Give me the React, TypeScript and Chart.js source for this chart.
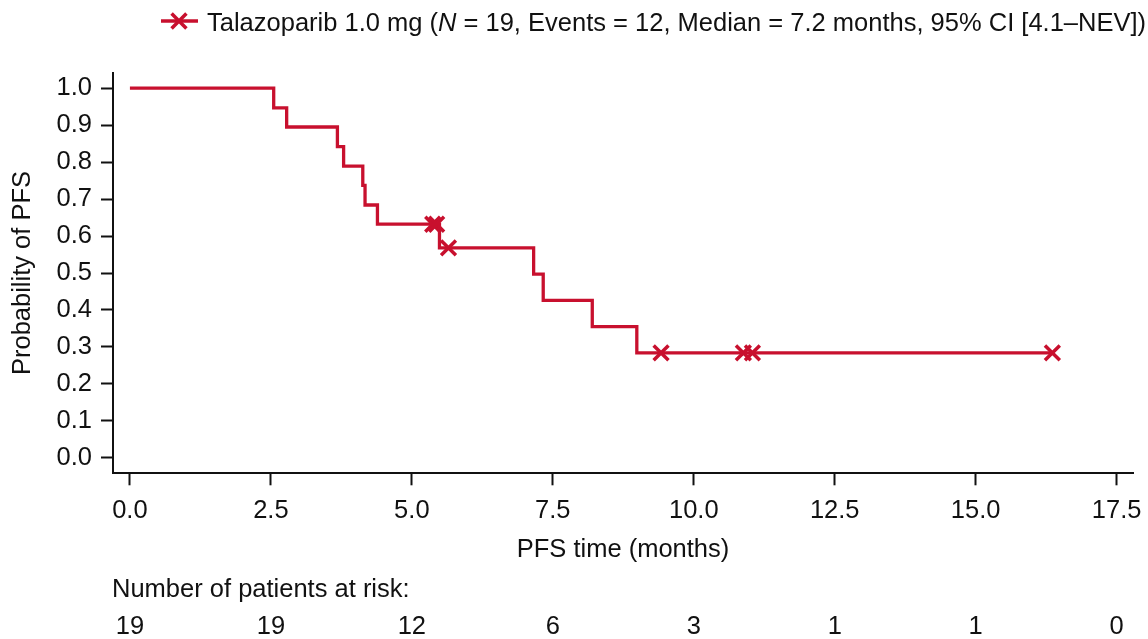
import React, { useEffect, useRef } from "react";
import { Chart, registerables } from "chart.js";

Chart.register(...registerables);

// Kaplan–Meier step points (time in months, survival probability)
const stepTimes = [0, 2.55, 2.78, 3.68, 3.79, 4.13, 4.17, 4.39, 5.49, 7.16, 7.33, 8.2, 8.99, 16.36];
const stepProb = [1.0, 0.947, 0.895, 0.842, 0.789, 0.737, 0.684, 0.632, 0.568, 0.497, 0.426, 0.355, 0.284, 0.284];

// Censored observations
const censorTimes = [5.37, 5.44, 5.65, 9.42, 10.88, 11.04, 16.36];
const censorProb = [0.632, 0.632, 0.568, 0.284, 0.284, 0.284, 0.284];

// Axis ticks
const xTicks = [0, 2.5, 5, 7.5, 10, 12.5, 15, 17.5];
const yTicks = [0, 0.1, 0.2, 0.3, 0.4, 0.5, 0.6, 0.7, 0.8, 0.9, 1.0];

// Number at risk at each x tick
const atRisk = [19, 19, 12, 6, 3, 1, 1, 0];

const legendParts = [
  { text: "Talazoparib 1.0 mg (", italic: false },
  { text: "N", italic: true },
  { text: " = 19, Events = 12, Median = 7.2 months, 95% CI [4.1–NEV])", italic: false },
];
const xTitle = "PFS time (months)";
const yTitle = "Probability of PFS";
const atRiskTitle = "Number of patients at risk:";

const RED = "#c8102e";
const INK = "#111111";
const FAMILY = "'Liberation Sans', Arial, Helvetica, sans-serif";
const FS = 25.5;

const W = 1148;
const H = 639;

export default function App() {
  const ref = useRef<HTMLCanvasElement | null>(null);

  useEffect(() => {
    if (!ref.current) return;

    const overlay = {
      id: "kmOverlay",
      afterDraw(chart: any) {
        const ctx = chart.ctx as CanvasRenderingContext2D;
        const xs = chart.scales.x;
        ctx.save();
        // Legend
        const ly = 21;
        ctx.strokeStyle = RED;
        ctx.lineWidth = 3.5;
        ctx.beginPath();
        ctx.moveTo(161, ly);
        ctx.lineTo(198, ly);
        ctx.stroke();
        const r = 10.5 * Math.SQRT1_2;
        const cx = 179;
        ctx.beginPath();
        ctx.moveTo(cx - r, ly - r);
        ctx.lineTo(cx + r, ly + r);
        ctx.moveTo(cx - r, ly + r);
        ctx.lineTo(cx + r, ly - r);
        ctx.stroke();
        ctx.fillStyle = INK;
        ctx.textBaseline = "alphabetic";
        ctx.textAlign = "left";
        let tx = 207;
        for (const p of legendParts) {
          ctx.font = `${p.italic ? "italic " : ""}${FS}px ${FAMILY}`;
          ctx.fillText(p.text, tx, 31);
          tx += ctx.measureText(p.text).width;
        }
        // At-risk table
        ctx.font = `${FS}px ${FAMILY}`;
        ctx.textAlign = "left";
        ctx.fillText(atRiskTitle, 112, 597);
        ctx.textAlign = "center";
        xTicks.forEach((t, i) => {
          ctx.fillText(String(atRisk[i]), xs.getPixelForValue(t), 634);
        });
        ctx.restore();
      },
    };

    const chart = new Chart(ref.current, {
      type: "line",
      data: {
        datasets: [
          {
            label: "KM",
            data: stepTimes.map((t, i) => ({ x: t, y: stepProb[i] })),
            borderColor: RED,
            borderWidth: 3.3,
            stepped: "before",
            pointRadius: 0,
            fill: false,
            borderCapStyle: "butt",
            borderJoinStyle: "miter",
          },
          {
            label: "Censored",
            data: censorTimes.map((t, i) => ({ x: t, y: censorProb[i] })),
            showLine: false,
            pointStyle: "crossRot",
            pointRadius: 10.5,
            pointBorderWidth: 3.5,
            borderColor: RED,
            backgroundColor: RED,
          },
        ],
      },
      options: {
        responsive: false,
        animation: false,
        layout: { padding: { left: 0, top: 72.7, right: 15, bottom: 0 } },
        plugins: { legend: { display: false }, tooltip: { enabled: false } },
        scales: {
          x: {
            type: "linear",
            min: -0.3,
            max: 17.79,
            afterFit: (s: any) => {
              s.height = H - 473.3;
              s.paddingLeft = 0;
              s.paddingRight = 0;
            },
            afterBuildTicks: (s: any) => {
              s.ticks = xTicks.map((v) => ({ value: v }));
            },
            ticks: {
              color: INK,
              padding: 10,
              maxRotation: 0,
              autoSkip: false,
              font: { family: FAMILY, size: FS },
              callback: (v: any) => Number(v).toFixed(1),
            },
            grid: {
              display: true,
              drawOnChartArea: false,
              drawTicks: true,
              tickLength: 12,
              tickColor: INK,
              tickWidth: 2,
            },
            border: { display: true, color: INK, width: 2 },
            title: {
              display: true,
              text: xTitle,
              color: INK,
              font: { family: FAMILY, size: FS },
              padding: { top: 0, bottom: 74 },
            },
          },
          y: {
            type: "linear",
            min: -0.042,
            max: 1.042,
            afterFit: (s: any) => {
              s.width = 113;
              s.paddingTop = 0;
              s.paddingBottom = 0;
            },
            afterBuildTicks: (s: any) => {
              s.ticks = yTicks.map((v) => ({ value: v }));
            },
            ticks: {
              color: INK,
              padding: 9,
              autoSkip: false,
              font: { family: FAMILY, size: FS },
              callback: (v: any) => Number(v).toFixed(1),
            },
            grid: {
              display: true,
              drawOnChartArea: false,
              drawTicks: true,
              tickLength: 12,
              tickColor: INK,
              tickWidth: 2,
            },
            border: { display: true, color: INK, width: 2 },
            title: {
              display: true,
              text: yTitle,
              color: INK,
              font: { family: FAMILY, size: FS },
              padding: { top: 8, bottom: 0 },
            },
          },
        },
      },
      plugins: [overlay],
    } as any);

    return () => chart.destroy();
  }, []);

  return (
    <div style={{ position: "fixed", left: 0, top: 0, width: W, height: H, background: "#fff" }}>
      <canvas ref={ref} width={W} height={H} style={{ width: W, height: H, display: "block" }} />
    </div>
  );
}
